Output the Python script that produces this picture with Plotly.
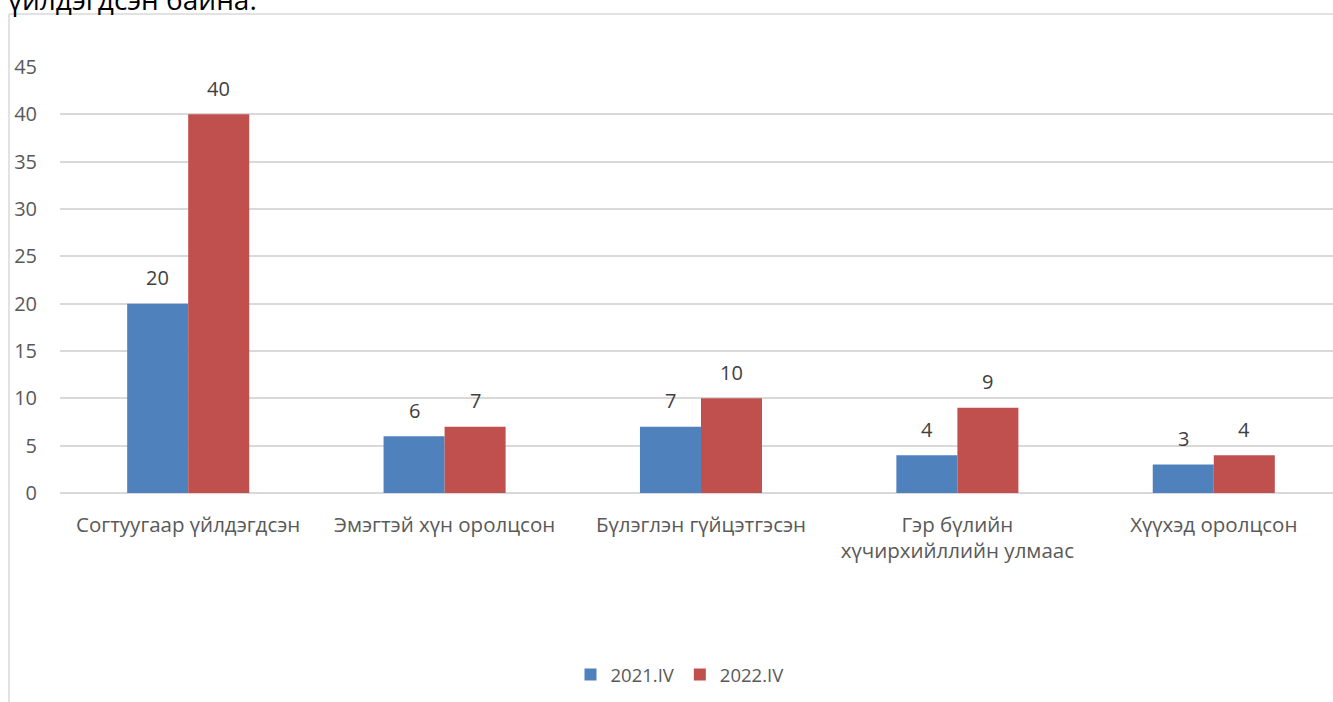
import plotly.graph_objects as go

categories = ["Согтуугаар үйлдэгдсэн", "Эмэгтэй хүн оролцсон", "Бүлэглэн гүйцэтгэсэн",
              "Гэр бүлийн<br>хүчирхийллийн улмаас", "Хүүхэд оролцсон"]
series_names = ["2021.IV", "2022.IV"]
values_2021 = [20, 6, 7, 4, 3]
values_2022 = [40, 7, 10, 9, 4]
y_ticks = [0, 5, 10, 15, 20, 25, 30, 35, 40, 45]
colors = ["#4f81bd", "#c0504d"]

FONT = "Open Sans"
W, H = 1333, 702
ml, mr, mt, mb = 60, 0, 67, 209

fig = go.Figure()
for name, vals, col in zip(series_names, [values_2021, values_2022], colors):
    fig.add_trace(go.Bar(
        x=list(range(len(categories))), y=vals, name=name,
        marker=dict(color=col, line=dict(width=0)),
    ))

bar_w = 0.476 / 2
annotations = []
for k, vals in enumerate([values_2021, values_2022]):
    off = (-0.5 + k) * bar_w
    for i, v in enumerate(vals):
        annotations.append(dict(
            x=i + off, y=v, xref="x", yref="y", text=str(v), showarrow=False,
            yanchor="middle", yshift=26,
            font=dict(family=FONT, size=20, color="#404040"),
        ))

pw = W - ml - mr
ph = H - mt - mb

annotations.append(dict(
    x=(6 - ml) / pw, y=(H - mb - 20) / ph,
    xref="paper", yref="paper", xanchor="left", yanchor="bottom",
    text="үйлдэгдсэн байна.", showarrow=False,
    font=dict(family=FONT, size=28, color="#000000"),
))

shapes = [
    dict(type="line", xref="paper", yref="paper",
         x0=(9 - ml) / pw, x1=(9 - ml) / pw, y0=(H - mb - 14) / ph, y1=(H - mb - H - 5) / ph,
         line=dict(color="#d9d9d9", width=1.5)),
    dict(type="line", xref="paper", yref="paper",
         x0=(9 - ml) / pw, x1=(W + 5 - ml) / pw, y0=(H - mb - 14) / ph, y1=(H - mb - 14) / ph,
         line=dict(color="#d9d9d9", width=1.5)),
]

fig.update_layout(
    width=W, height=H,
    margin=dict(l=ml, r=mr, t=mt, b=mb, pad=0),
    paper_bgcolor="white", plot_bgcolor="white",
    barmode="group", bargap=0.524, bargroupgap=0,
    font=dict(family=FONT, size=20, color="#595959"),
    xaxis=dict(
        tickmode="array", tickvals=list(range(len(categories))), ticktext=categories,
        range=[-0.5, 4.465], showgrid=False, zeroline=False, showline=False,
        ticks="outside", ticklen=13, tickcolor="rgba(0,0,0,0)",
        tickfont=dict(family=FONT, size=20.5, color="#595959"),
    ),
    yaxis=dict(
        range=[0, 45], tickvals=y_ticks, showgrid=True, gridcolor="#d9d9d9", gridwidth=1.5,
        zeroline=True, zerolinecolor="#d9d9d9", zerolinewidth=1.5, showline=False,
        ticks="", ticklabelstandoff=22,
        tickfont=dict(family=FONT, size=20, color="#595959"),
    ),
    legend=dict(
        orientation="h", x=(680 - ml) / pw, xanchor="center",
        y=(H - mb - 675) / ph, yanchor="middle",
        font=dict(family=FONT, size=18.5, color="#595959"),
        traceorder="normal",
    ),
    annotations=annotations,
    shapes=shapes,
)

fig.write_html("out.html", config={"displayModeBar": False},
               post_script="document.body.style.margin='0';document.body.style.overflow='hidden';")
